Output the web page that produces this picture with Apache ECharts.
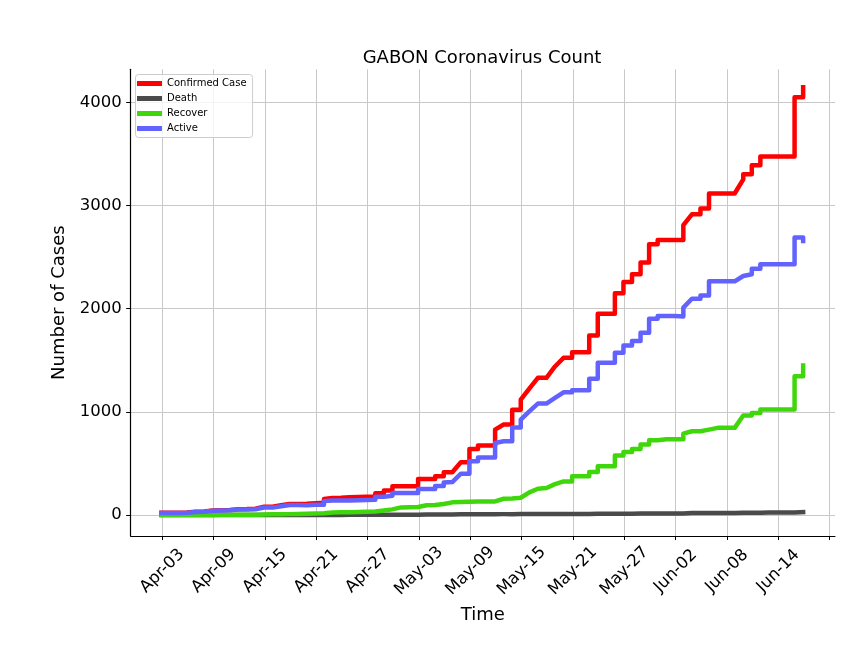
<!DOCTYPE html>
<html>
<head>
    <meta charset="utf-8">
    <title>GABON Coronavirus Count</title>
    <script src="https://cdn.jsdelivr.net/npm/echarts/dist/echarts.min.js"></script>
    <style>
        html, body { margin: 0; padding: 0; background: #fff; }
    </style>
</head>
<body>
    <div id="main" style="width: 864px;height:648px;"></div>
    <script type="text/javascript">
        // report dates (a date appears twice when a second report came in that day)
        var dates = [
            '2020-04-02','2020-04-03','2020-04-04','2020-04-05','2020-04-06','2020-04-07','2020-04-08','2020-04-09',
            '2020-04-10','2020-04-11','2020-04-12','2020-04-13','2020-04-14','2020-04-15','2020-04-16','2020-04-17',
            '2020-04-18','2020-04-19','2020-04-20','2020-04-21','2020-04-21','2020-04-22','2020-04-23','2020-04-24',
            '2020-04-25','2020-04-26','2020-04-27','2020-04-27','2020-04-28','2020-04-28','2020-04-29','2020-04-29',
            '2020-04-30','2020-05-01','2020-05-02','2020-05-02','2020-05-03','2020-05-04','2020-05-04','2020-05-05',
            '2020-05-05','2020-05-06','2020-05-07','2020-05-08','2020-05-08','2020-05-09','2020-05-09','2020-05-10',
            '2020-05-11','2020-05-11','2020-05-12','2020-05-13','2020-05-13','2020-05-14','2020-05-14','2020-05-15',
            '2020-05-16','2020-05-17','2020-05-18','2020-05-19','2020-05-20','2020-05-20','2020-05-21','2020-05-22',
            '2020-05-22','2020-05-23','2020-05-23','2020-05-24','2020-05-25','2020-05-25','2020-05-26','2020-05-26',
            '2020-05-27','2020-05-27','2020-05-28','2020-05-28','2020-05-29','2020-05-29','2020-05-30','2020-05-30',
            '2020-05-31','2020-06-01','2020-06-02','2020-06-02','2020-06-03','2020-06-04','2020-06-04','2020-06-05',
            '2020-06-05','2020-06-06','2020-06-07','2020-06-08','2020-06-09','2020-06-09','2020-06-10','2020-06-10',
            '2020-06-11','2020-06-11','2020-06-12','2020-06-13','2020-06-14','2020-06-15','2020-06-15','2020-06-16',
            '2020-06-16'
        ];
        var reportTime = '21:30';

        var confirmed = [
            22, 22, 22, 24, 32, 34, 44, 47,
            49, 57, 58, 62, 80, 80, 95, 108,
            108, 109, 115, 120, 156, 166, 167, 172,
            176, 178, 178, 211, 211, 238, 238, 280,
            280, 280, 280, 350, 350, 350, 375, 375,
            414, 414, 511, 511, 640, 640, 673, 673,
            673, 828, 877, 877, 1020, 1020, 1118, 1225,
            1330, 1330, 1440, 1524, 1524, 1579, 1579, 1579,
            1741, 1741, 1951, 1951, 1951, 2149, 2149, 2259,
            2259, 2333, 2333, 2447, 2447, 2624, 2624, 2666,
            2666, 2666, 2666, 2810, 2915, 2915, 2971, 2971,
            3116, 3116, 3116, 3116, 3254, 3304, 3304, 3391,
            3391, 3476, 3476, 3476, 3476, 3476, 4048, 4048,
            4146
        ];
        var deaths = [
            1, 1, 1, 1, 1, 1, 1, 1,
            1, 1, 1, 1, 1, 1, 1, 1,
            1, 1, 1, 1, 1, 1, 1, 2,
            3, 3, 3, 3, 3, 3, 3, 3,
            3, 3, 3, 5, 5, 5, 5, 5,
            6, 6, 7, 7, 8, 8, 8, 8,
            8, 9, 9, 9, 10, 10, 10, 10,
            10, 10, 11, 11, 11, 11, 11, 11,
            12, 12, 12, 12, 12, 13, 13, 13,
            13, 14, 14, 14, 14, 15, 15, 16,
            16, 16, 16, 18, 19, 19, 20, 20,
            21, 21, 21, 21, 22, 22, 22, 23,
            23, 24, 24, 24, 24, 24, 28, 28,
            30
        ];
        var recovered = [
            0, 0, 1, 1, 1, 1, 1, 2,
            2, 3, 3, 4, 6, 7, 8, 9,
            10, 12, 15, 18, 20, 24, 26, 28,
            30, 33, 35, 40, 45, 50, 55, 74,
            74, 76, 78, 93, 95, 98, 107, 107,
            112, 123, 126, 130, 132, 132, 132, 132,
            132, 135, 158, 160, 165, 168, 180, 220,
            255, 262, 300, 326, 326, 375, 375, 375,
            417, 417, 472, 472, 472, 576, 576, 612,
            612, 641, 641, 683, 683, 724, 724, 735,
            735, 735, 735, 789, 812, 812, 828, 828,
            845, 845, 845, 845, 964, 964, 964, 990,
            990, 1022, 1022, 1022, 1022, 1022, 1346, 1346,
            1450
        ];
        var active = [
            21, 21, 21, 23, 30, 32, 42, 44,
            46, 53, 54, 57, 73, 72, 86, 98,
            97, 96, 99, 101, 135, 141, 140, 142,
            143, 145, 148, 178, 178, 186, 186, 213,
            213, 213, 213, 252, 252, 252, 282, 282,
            316, 320, 401, 401, 521, 521, 558, 558,
            558, 699, 715, 715, 848, 848, 925, 1005,
            1080, 1080, 1135, 1190, 1190, 1210, 1210, 1210,
            1320, 1320, 1476, 1476, 1476, 1573, 1573, 1644,
            1644, 1686, 1686, 1767, 1767, 1903, 1903, 1928,
            1928, 1928, 1925, 2010, 2097, 2097, 2129, 2129,
            2265, 2265, 2265, 2265, 2317, 2333, 2333, 2388,
            2388, 2430, 2430, 2430, 2430, 2430, 2689, 2689,
            2656
        ];

        var xTicks = ['2020-04-03','2020-04-09','2020-04-15','2020-04-21','2020-04-27','2020-05-03','2020-05-09',
                      '2020-05-15','2020-05-21','2020-05-27','2020-06-02','2020-06-08','2020-06-14','2020-06-20'];
        var xLabels = xTicks.slice(0, 13);
        var yTicks = [0, 1000, 2000, 3000, 4000];

        var months = ['Jan','Feb','Mar','Apr','May','Jun','Jul','Aug','Sep','Oct','Nov','Dec'];
        var DAY = 86400000;
        var FONT = 'DejaVu Sans';

        // parse 'YYYY-MM-DD' or 'YYYY-MM-DD HH:MM' (UTC) and return days since Apr-03
        var start = Date.UTC(2020, 3, 3);
        function toDay(s) {
            var p = s.split(/[- :]/);
            var t = Date.UTC(+p[0], +p[1] - 1, +p[2], +(p[3] || 0), +(p[4] || 0));
            return (t - start) / DAY;
        }
        function pad(n) { return n < 10 ? '0' + n : '' + n; }
        function dayLabel(v) {
            var d = new Date(start + Math.round(v) * DAY);
            return months[d.getUTCMonth()] + '-' + pad(d.getUTCDate());
        }

        function pairs(values) {
            return dates.map(function (d, i) {
                return [toDay(d + ' ' + reportTime), values[i]];
            });
        }

        var myChart = echarts.init(document.getElementById('main'));

        function lineSeries(name, color, values) {
            return {
                type: 'line',
                name: name,
                data: pairs(values),
                showSymbol: false,
                symbol: 'none',
                animation: false,
                emphasis: { disabled: true },
                itemStyle: { color: color },
                lineStyle: { color: color, width: 4.5, join: 'round', cap: 'square' }
            };
        }

        myChart.setOption({
            backgroundColor: '#ffffff',
            animation: false,
            title: {
                text: 'GABON Coronavirus Count',
                left: 477,
                top: 44,
                textAlign: 'center',
                textStyle: { fontFamily: FONT, fontSize: 18, fontWeight: 'normal', color: '#000' }
            },
            legend: {
                orient: 'vertical',
                left: 135.5,
                top: 74.5,
                icon: 'rect',
                itemWidth: 25,
                itemHeight: 5,
                itemGap: 3,
                padding: [3, 6, 3, 1.5],
                backgroundColor: 'rgba(255,255,255,0.8)',
                borderColor: '#cccccc',
                borderWidth: 1,
                borderRadius: 3,
                textStyle: { fontFamily: FONT, fontSize: 10, color: '#000', lineHeight: 12 },
                data: ['Confirmed Case', 'Death', 'Recover', 'Active']
            },
            grid: { left: 130.7, right: 29, top: 69.3, bottom: 112 },
            xAxis: {
                type: 'value',
                min: -3.69,
                max: 78.62,
                name: 'Time',
                nameLocation: 'middle',
                nameGap: 70,
                nameTextStyle: { fontFamily: FONT, fontSize: 18, color: '#000' },
                axisLine: { onZero: false, lineStyle: { color: '#000', width: 1.2 } },
                axisTick: {
                    customValues: xTicks.map(toDay),
                    length: 4,
                    lineStyle: { color: '#000', width: 1 }
                },
                axisLabel: {
                    customValues: xLabels.map(toDay),
                    rotate: 45,
                    align: 'center',
                    verticalAlign: 'middle',
                    margin: 35,
                    fontFamily: FONT,
                    fontSize: 16.5,
                    color: '#000',
                    formatter: dayLabel
                },
                splitLine: { show: true, lineStyle: { color: '#c8c8c8', width: 1 } }
            },
            yAxis: {
                type: 'value',
                min: -203,
                max: 4320,
                name: 'Number of Cases',
                nameLocation: 'middle',
                nameGap: 56,
                nameTextStyle: { fontFamily: FONT, fontSize: 18, color: '#000' },
                axisLine: { show: true, onZero: false, lineStyle: { color: '#000', width: 1.2 } },
                axisTick: {
                    show: true,
                    customValues: yTicks,
                    length: 4.5,
                    lineStyle: { color: '#000', width: 1 }
                },
                axisLabel: {
                    customValues: yTicks,
                    margin: 9,
                    fontFamily: FONT,
                    fontSize: 16.5,
                    color: '#000',
                    formatter: function (v) { return String(v); }
                },
                splitLine: { show: true, lineStyle: { color: '#c8c8c8', width: 1 } }
            },
            series: [
                lineSeries('Confirmed Case', '#ff0000', confirmed),
                lineSeries('Death', '#4a4a4a', deaths),
                lineSeries('Recover', '#3fd70c', recovered),
                lineSeries('Active', '#6262ff', active)
            ]
        });
    </script>
</body>
</html>
